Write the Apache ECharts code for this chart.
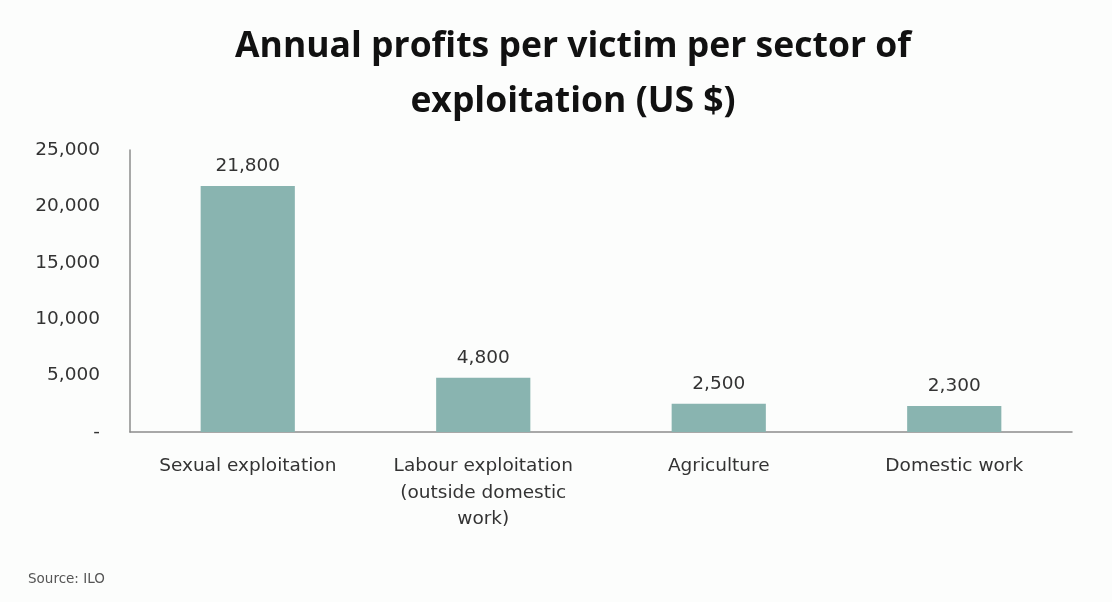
<!DOCTYPE html>
<html><head><meta charset="utf-8">
<script src="https://cdn.jsdelivr.net/npm/echarts@6/dist/echarts.min.js"></script>
<style>html,body{margin:0;padding:0;background:#fcfdfc}#c{width:1112px;height:602px}</style>
</head><body><div id="c"></div>
<script>
const categories = ['Sexual exploitation', 'Labour exploitation\n(outside domestic\nwork)', 'Agriculture', 'Domestic work'];
const profits = [21800, 4800, 2500, 2300];
const titleText = 'Annual profits per victim per sector of\nexploitation (US $)';
const sourceText = 'Source: ILO';

const fmt = v => v === 0 ? '-' : v.toLocaleString('en-US');
const chart = echarts.init(document.getElementById('c'));
chart.setOption({
  backgroundColor: '#fcfdfc',
  animation: false,
  title: [{
    text: titleText, left: 568, top: 14, textAlign: 'center',
    textStyle: { fontFamily: 'Open Sans', fontWeight: 'bold', fontSize: 35.5, lineHeight: 55, color: '#111' }
  }, {
    text: sourceText, left: 23, top: 567,
    textStyle: { fontFamily: 'DejaVu Sans', fontWeight: 'normal', fontSize: 13.5, color: '#555' }
  }],
  grid: { left: 130, right: 40, top: 150, bottom: 170 },
  xAxis: {
    type: 'category', data: categories,
    axisLine: { lineStyle: { color: '#8c8c8c', width: 1.5 } },
    axisTick: { show: false },
    axisLabel: { fontFamily: 'DejaVu Sans', fontSize: 18.5, color: '#333', lineHeight: 26.5, margin: 21, interval: 0 }
  },
  yAxis: {
    type: 'value', min: 0, max: 25000, interval: 5000,
    axisLine: { show: true, lineStyle: { color: '#8c8c8c', width: 1.5 } },
    axisTick: { show: false },
    splitLine: { show: false },
    axisLabel: { formatter: fmt, fontFamily: 'DejaVu Sans', fontSize: 18.5, color: '#333', margin: 30 }
  },
  series: [{
    type: 'bar', data: profits, barWidth: '40%',
    itemStyle: { color: '#89b4b0' },
    label: { show: true, position: 'top', distance: 10, formatter: p => fmt(p.value), fontFamily: 'DejaVu Sans', fontSize: 18.5, color: '#333' }
  }]
});
</script></body></html>
